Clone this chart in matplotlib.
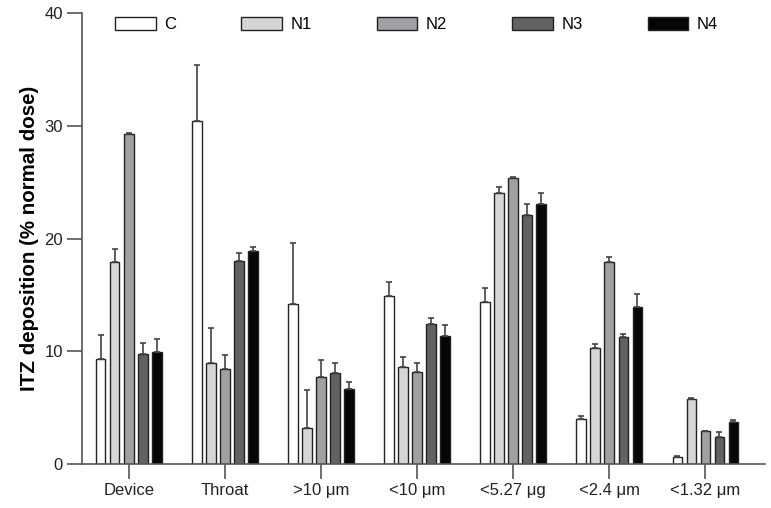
import numpy as np
import matplotlib.pyplot as plt

plt.rcParams['font.family'] = ['Liberation Sans', 'DejaVu Sans']

groups = ["Device", "Throat", ">10 \u03bcm", "<10 \u03bcm", "<5.27 \u03bcg", "<2.4 \u03bcm", "<1.32 \u03bcm"]
series = ["C", "N1", "N2", "N3", "N4"]

C = [9.3, 30.45, 14.2, 14.9, 14.4, 4.0, 0.65]
N1 = [17.9, 8.95, 3.15, 8.57, 24.0, 10.3, 5.8]
N2 = [29.3, 8.4, 7.75, 8.2, 25.35, 17.9, 2.9]
N3 = [9.76, 18.0, 8.05, 12.4, 22.06, 11.3, 2.37]
N4 = [9.9, 18.85, 6.65, 11.38, 23.03, 13.9, 3.72]

C_err = [2.1, 4.9, 5.4, 1.2, 1.2, 0.27, 0.07]
N1_err = [1.15, 3.1, 3.4, 0.9, 0.55, 0.38, 0.06]
N2_err = [0.08, 1.25, 1.45, 0.77, 0.08, 0.46, 0.07]
N3_err = [0.95, 0.7, 0.93, 0.58, 0.97, 0.21, 0.44]
N4_err = [1.15, 0.4, 0.65, 0.95, 1.03, 1.15, 0.2]

values = [C, N1, N2, N3, N4]
errors = [C_err, N1_err, N2_err, N3_err, N4_err]
colors = ["#ffffff", "#d6d6d6", "#a1a1a3", "#626262", "#060606"]

fig = plt.figure(figsize=(7.71, 5.08), dpi=100)
ax = fig.add_axes([0.106, 0.0866, 0.886, 0.8878])

x = np.arange(len(groups))
pitch = 0.146
width = 0.098
for i, (vals, errs, col) in enumerate(zip(values, errors, colors)):
    pos = x + (i - 2) * pitch
    ax.bar(pos, vals, width, color=col, edgecolor="#222222", linewidth=1.0,
           label=series[i], zorder=2)
    ax.errorbar(pos, vals, yerr=[np.zeros(len(errs)), errs], fmt="none",
                ecolor="#444444", elinewidth=1.2, capsize=2.3, capthick=1.2, zorder=3)

ax.set_xlim(-0.49, 6.62)
ax.set_ylim(0, 40)
ax.set_yticks([0, 10, 20, 30, 40])
ax.set_xticks(x)
ax.set_xticklabels(groups)
ax.tick_params(axis="both", direction="out", length=10.5, width=1.2, color="#555555",
               labelsize=12, pad=3, labelcolor="#222222")
for side in ["top", "right"]:
    ax.spines[side].set_visible(False)
for side in ["left", "bottom"]:
    ax.spines[side].set_color("#555555")
    ax.spines[side].set_linewidth(1.2)
ax.set_ylabel("ITZ deposition (% normal dose)", fontsize=14.8, fontweight="bold", labelpad=4)

fig.legend(ncol=5, frameon=False, loc="center left", bbox_to_anchor=(115 / 771, 1 - 24.5 / 508),
           borderpad=0, borderaxespad=0, handlelength=2.45, handleheight=0.78,
           columnspacing=3.9, handletextpad=0.5, fontsize=12)

plt.savefig("out.png", dpi=100)
